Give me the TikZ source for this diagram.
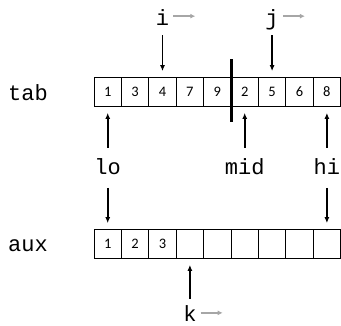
\documentclass[tikz,border=0pt]{standalone}
\usepackage{fontspec}
\setmonofont{Liberation Mono}
\newfontfamily\cellfont{Carlito}
\usetikzlibrary{arrows.meta,positioning,calc}

\begin{document}
\begin{tikzpicture}[x=1pt,y=1pt,
  cell/.style={draw, line width=0.7pt, minimum width=27.4pt, minimum height=29pt, inner sep=0pt, font=\cellfont\fontsize{14.5}{16}\selectfont},
  lbl/.style={font=\ttfamily\fontsize{22}{26}\selectfont, inner sep=0pt, anchor=base},
  ptr/.style={-{Latex[length=6pt,width=5pt]}, line width=1.6pt},
  move/.style={-{Latex[length=5pt,width=5pt]}, line width=1.6pt, black!35}]
\useasboundingbox (0,0) rectangle (341,-325);
% Arrays
\node[lbl] (tab) at (28,-100) {tab};
\node[lbl] (aux) at (28,-251) {aux};
\foreach \v [count=\n] in {1,3,4,7,9,2,5,6,8}
  \node[cell] (t\n) at ({94+(\n-0.5)*27.4},-92) {\v};
\foreach \v [count=\n] in {1,2,3,{},{},{},{},{},{}}
  \node[cell] (a\n) at ({94+(\n-0.5)*27.4},-244) {\v};
% Split between the two halves
\draw[line width=3pt] ($(t5.north east)+(0,18)$) -- ($(t5.south east)+(0,-15)$);
% Indices i, j above tab
\node[lbl] (i) at ($(t3.north)+(0,52)$) {i};
\node[lbl] (j) at ($(t7.north)+(0,52)$) {j};
\foreach \p/\c in {i/t3,j/t7} {
  \draw[ptr] ([yshift=-10pt]\p.base) -- ([yshift=6pt]\c.north);
  \draw[move] ([shift={(4,9)}]\p.base east) -- ++(22,0);
}
% Bounds lo, mid, hi
\node[lbl] (lo) at ($(t1.south)+(0,-68)$) {lo};
\node[lbl] (mid) at ($(t6.south)+(0,-68)$) {mid};
\node[lbl] (hi) at ($(t9.south)+(0,-68)$) {hi};
\foreach \p/\c in {lo/t1,mid/t6,hi/t9}
  \draw[ptr] ([yshift=27pt]\p.base) -- ([yshift=-6pt]\c.south);
\foreach \p/\c in {lo/a1,hi/a9}
  \draw[ptr] ([yshift=-13pt]\p.base) -- ([yshift=6pt]\c.north);
% Index k below aux
\node[lbl] (k) at ($(a4.south)+(0,-63)$) {k};
\draw[ptr] ([yshift=23pt]k.base) -- ([yshift=-6pt]a4.south);
\draw[move] ([shift={(4,9)}]k.base east) -- ++(22,0);
\end{tikzpicture}
\end{document}
